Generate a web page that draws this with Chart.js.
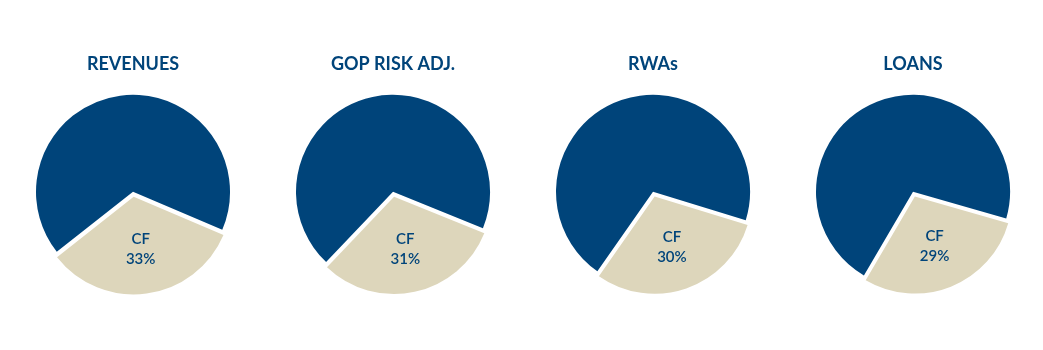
<!DOCTYPE html>
<html>
<head>
<meta charset="utf-8">
<script src="https://cdn.jsdelivr.net/npm/chart.js"></script>
<style>
body{margin:0;background:#fff;}
#row{display:flex;padding-left:3px;width:1040px;height:350px;}
.pie{width:260px;height:350px;position:relative;}
</style>
</head>
<body>
<div id="row">
<div class="pie"><canvas id="pie0"></canvas></div>
<div class="pie"><canvas id="pie1"></canvas></div>
<div class="pie"><canvas id="pie2"></canvas></div>
<div class="pie"><canvas id="pie3"></canvas></div>
</div>
<script>
let titles=["REVENUES","GOP RISK ADJ.","RWAs","LOANS"];
let segments=["CF","Rest of group"];
let cfShare=[33,31,30,29];
let restShare=[67,69,70,71];

let navy="#00447a";
let sand="#ddd6bb";

// CF slice start, degrees clockwise from 3 o'clock
let cfStart=[23,22,17,16];

// "CF" + share written inside the pulled-out slice
let sliceLabel={
id:"sliceLabel",
afterDatasetsDraw(chart){
let arc=chart.getDatasetMeta(0).data[0];
let mid=(arc.startAngle+arc.endAngle)/2;
let d=arc.outerRadius*0.6;
let x=arc.x+Math.cos(mid)*d;
let y=arc.y+Math.sin(mid)*d;
let ctx=chart.ctx;
ctx.save();
ctx.fillStyle=navy;
ctx.font="600 15px Lato";
ctx.textAlign="center";
ctx.textBaseline="middle";
ctx.fillText(chart.data.labels[0],x,y-10);
ctx.fillText(chart.data.datasets[0].data[0]+"%",x,y+10);
ctx.restore();
}
};

titles.forEach((t,i)=>{

new Chart(document.getElementById("pie"+i),{
type:"pie",
data:{
labels:segments,
datasets:[{
data:[cfShare[i],restShare[i]],
backgroundColor:[sand,navy],
borderWidth:0,
offset:[20,0]
}]
},
options:{
responsive:true,
maintainAspectRatio:false,
animation:false,
rotation:90+cfStart[i],
radius:97,
layout:{padding:{bottom:51}},
plugins:{
legend:{display:false},
tooltip:{enabled:false},
title:{
display:true,
text:t,
color:navy,
font:{family:"Lato",size:18,weight:"bold"},
padding:{top:53,bottom:10}
}
}
},
plugins:[sliceLabel]
});

});
</script>
</body>
</html>
